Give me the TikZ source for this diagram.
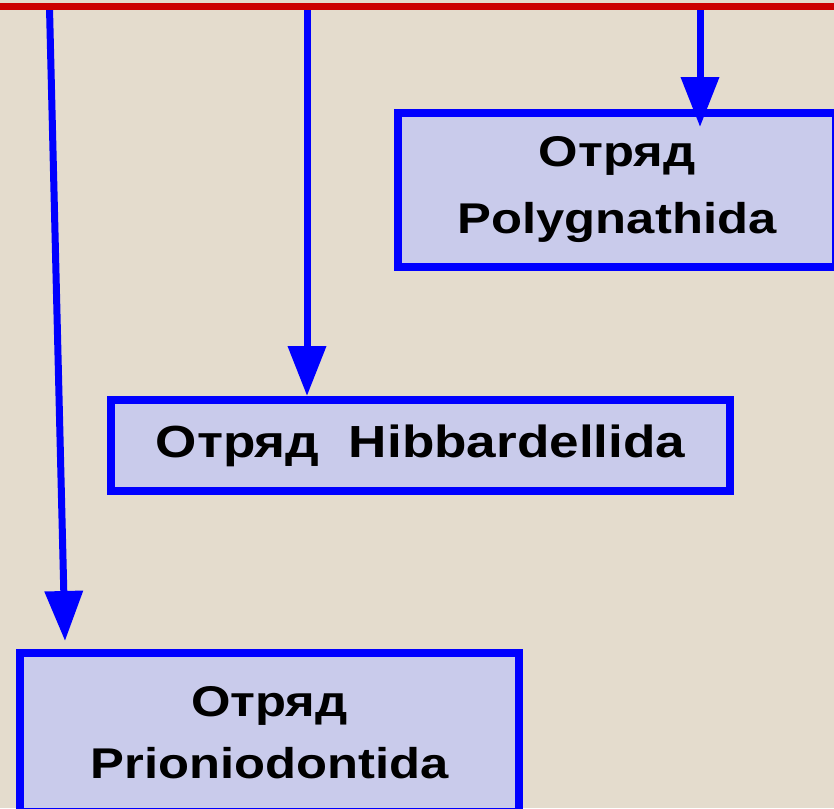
\documentclass[tikz,border=0pt]{standalone}
\usepackage{fontspec}
\newfontfamily\labfont{Liberation Sans}[FakeStretch=1.18]
\usetikzlibrary{arrows.meta,calc}
\definecolor{bgbeige}{RGB}{228,220,205}
\definecolor{boxfill}{RGB}{201,203,235}
\definecolor{topred}{RGB}{204,0,0}
\definecolor{arrblue}{RGB}{0,0,255}
\tikzset{
  ordbox/.style={draw=arrblue, line width=8pt, fill=boxfill, align=center,
    inner sep=0pt, font=\labfont\bfseries\fontsize{43}{67}\selectfont},
  linkarrow/.style={draw=arrblue, line width=7pt,
    -{Triangle[width=37pt,length=50pt]}}
}
\begin{document}
\begin{tikzpicture}[x=1pt,y=-1pt]
\clip (0,0) rectangle (834,808);
\fill[bgbeige] (0,0) rectangle (834,808);
% boxes
\node[ordbox, minimum width=438pt, minimum height=154pt] (poly) at (617,190)
  {Отряд\\Polygnathida};
\node[ordbox, minimum width=619pt, minimum height=91pt,
  font=\labfont\bfseries\fontsize{45}{54}\selectfont] (hibb) at (420.5,445.5)
  {Отряд\ \ Hibbardellida};
\node[ordbox, minimum width=499pt, minimum height=159pt,
  font=\labfont\bfseries\fontsize{43}{62}\selectfont] (prio) at (269.5,732.5)
  {Отряд\\Prioniodontida};
% start points on the top line
\coordinate (s1) at (49.5,8);
\coordinate (s2) at (307,8);
\coordinate (s3) at (700,8);
% arrows
\draw[linkarrow] (s1) -- ($(prio.north west)+(49,-8)$);
\draw[linkarrow] (s2) -- (s2 |- hibb.north);
\draw[linkarrow] (s3) -- ($(s3 |- poly.north)+(0,18)$);
% top red line
\coordinate (tl) at (0,6.5);
\coordinate (tr) at (834,6.5);
\draw[topred, line width=7pt] (tl) -- (tr);
\end{tikzpicture}
\end{document}
